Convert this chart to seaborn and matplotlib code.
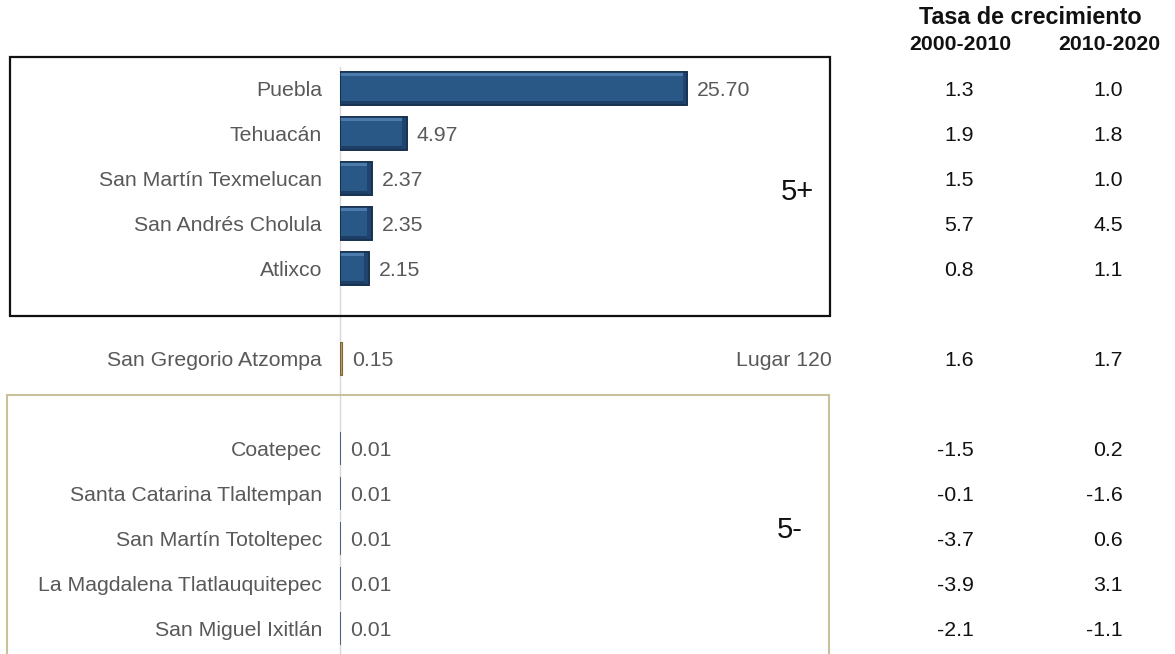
import matplotlib
matplotlib.use("Agg")
import matplotlib.pyplot as plt
import matplotlib.patches as mpatches
import matplotlib.transforms as mtransforms
import seaborn as sns
import pandas as pd

# ---- data ----
municipios = ["Puebla", "Tehuacán", "San Martín Texmelucan", "San Andrés Cholula", "Atlixco",
              "San Gregorio Atzompa",
              "Coatepec", "Santa Catarina Tlaltempan", "San Martín Totoltepec",
              "La Magdalena Tlatlauquitepec", "San Miguel Ixitlán"]
porcentaje = [25.70, 4.97, 2.37, 2.35, 2.15, 0.15, 0.01, 0.01, 0.01, 0.01, 0.01]
grupo = ["5+", "5+", "5+", "5+", "5+", "Lugar 120", "5-", "5-", "5-", "5-", "5-"]
tasa_2000_2010 = [1.3, 1.9, 1.5, 5.7, 0.8, 1.6, -1.5, -0.1, -3.7, -3.9, -2.1]
tasa_2010_2020 = [1.0, 1.8, 1.0, 4.5, 1.1, 1.7, 0.2, -1.6, 0.6, 3.1, -1.1]
encabezado = "Tasa de crecimiento"
periodos = ["2000-2010", "2010-2020"]

df = pd.DataFrame({"municipio": municipios, "porcentaje": porcentaje, "grupo": grupo})
orden = municipios[:5] + [" "] + [municipios[5]] + ["  "] + municipios[6:]

sns.set_theme(style="white")
plt.rcParams["font.family"] = ["Liberation Sans", "DejaVu Sans"]

W, H = 1175, 654
fig = plt.figure(figsize=(W / 100, H / 100), dpi=100)

def fx(px):
    return px / W

def fy(py):
    return 1 - py / H

FS = 15.3
ax_left, ax_right, ax_top = 340, 850, 67
ax = fig.add_axes([fx(ax_left), 0, fx(ax_right - ax_left), (H - ax_top) / H])

palette = {"5+": "#2A5886", "Lugar 120": "#B8A36C", "5-": "#2B4E78"}
sns.barplot(data=df, x="porcentaje", y="municipio", hue="grupo", order=orden,
            hue_order=["5+", "Lugar 120", "5-"], palette=palette, dodge=False,
            width=0.73, orient="h", legend=False, ax=ax, saturation=1)

edge = {"5+": ("#16304F", 1.2), "Lugar 120": ("#7A6533", 0.8), "5-": ("#22405F", 1.1)}
for cont, g in zip(ax.containers, ["5+", "Lugar 120", "5-"]):
    for p in cont:
        p.set_edgecolor(edge[g][0])
        p.set_linewidth(edge[g][1])
        if g == "5+":
            # bevel: light strip on top, dark strips at bottom/right
            x0, y0 = p.get_x(), p.get_y()
            w, h = p.get_width(), p.get_height()
            bev_x = 0.35
            bev_y = 0.12 * h
            ax.add_patch(mpatches.Rectangle((x0, y0), w, bev_y, facecolor="#4B7BAC",
                                            edgecolor="none", zorder=p.get_zorder() + 0.1))
            ax.add_patch(mpatches.Rectangle((x0, y0 + h - bev_y), w, bev_y, facecolor="#1D3F66",
                                            edgecolor="none", zorder=p.get_zorder() + 0.1))
            ax.add_patch(mpatches.Rectangle((x0 + w - bev_x, y0), bev_x, h, facecolor="#1F4470",
                                            edgecolor="none", zorder=p.get_zorder() + 0.1))
            ax.add_patch(mpatches.Rectangle((x0, y0), w, h, facecolor="none",
                                            edgecolor=edge[g][0], linewidth=1.2,
                                            zorder=p.get_zorder() + 0.2))
    labels = ax.bar_label(cont, fmt="%.2f", padding=7, color="#595959", fontsize=FS)
    for t in labels:
        t.set_va("center_baseline")

px_per_unit = 13.52
ax.set_xlim(0, (ax_right - ax_left) / px_per_unit)
ax.set_ylim((H - 88.5) / 45, (ax_top - 88.5) / 45)
ax.set_xlabel("")
ax.set_ylabel("")
ax.set_xticks([])
ax.tick_params(axis="y", length=0, pad=13, labelsize=FS, labelcolor="#595959")
for s in ["top", "right", "bottom"]:
    ax.spines[s].set_visible(False)
ax.spines["left"].set_color("#D9D9D9")
ax.spines["left"].set_linewidth(1.0)
ax.spines["left"].set_zorder(0.5)
ax.set_facecolor("none")

# ---- group boxes ----
box1 = mpatches.Rectangle((fx(10), fy(316)), fx(820), (316 - 57) / H, transform=fig.transFigure,
                          fill=False, edgecolor="#111111", linewidth=1.6, zorder=0)
box2 = mpatches.Rectangle((fx(7), fy(660)), fx(822), (660 - 395) / H, transform=fig.transFigure,
                          fill=False, edgecolor="#C9C09C", linewidth=1.5, zorder=0)
fig.patches.extend([box1, box2])

fig.text(fx(797), fy(192), "5+", ha="center", va="center", fontsize=21, color="#111111")
fig.text(fx(790), fy(530), "5-", ha="center", va="center", fontsize=21, color="#111111")

# ---- growth table ----
pos = {m: orden.index(m) for m in municipios}
trans = mtransforms.blended_transform_factory(fig.transFigure, ax.transData)
for m, a, b, g in zip(municipios, tasa_2000_2010, tasa_2010_2020, grupo):
    y = pos[m]
    ax.text(fx(974), y, f"{a:.1f}", transform=trans, ha="right", va="center_baseline",
            fontsize=FS, color="#111111", clip_on=False)
    ax.text(fx(1123), y, f"{b:.1f}", transform=trans, ha="right", va="center_baseline",
            fontsize=FS, color="#111111", clip_on=False)
    if g == "Lugar 120":
        ax.text(fx(832), y, "Lugar 120", transform=trans, ha="right", va="center_baseline",
                fontsize=FS, color="#595959", clip_on=False)

fig.text(fx(1030), fy(18), encabezado, ha="center", va="center", fontsize=16.8,
         fontweight="bold", color="#111111")
fig.text(fx(960), fy(45), periodos[0], ha="center", va="center", fontsize=15.3,
         fontweight="bold", color="#111111")
fig.text(fx(1109), fy(45), periodos[1], ha="center", va="center", fontsize=15.3,
         fontweight="bold", color="#111111")

fig.savefig("out.png", dpi=100, facecolor="white")
